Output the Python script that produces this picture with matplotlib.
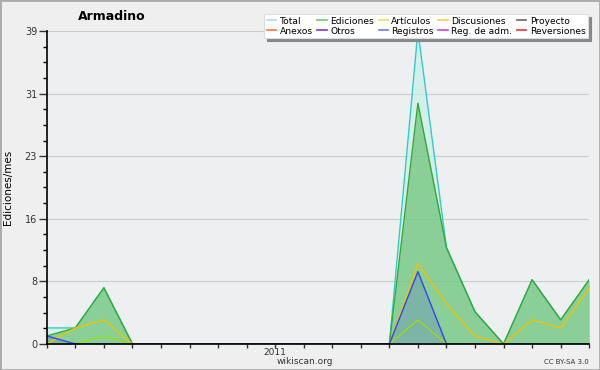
import matplotlib.pyplot as plt
from matplotlib.lines import Line2D
from matplotlib.patches import Rectangle
import numpy as np

# meses de may 2010 a dic 2011
meses = ["2010-05", "2010-06", "2010-07", "2010-08", "2010-09", "2010-10", "2010-11", "2010-12",
         "2011-01", "2011-02", "2011-03", "2011-04", "2011-05", "2011-06", "2011-07", "2011-08",
         "2011-09", "2011-10", "2011-11", "2011-12"]
total = [2, 2, 7, 0, 0, 0, 0, 0, 0, 0, 0, 0, 0, 39, 12, 4, 0, 8, 3, 8]
ediciones = [1, 2, 7, 0, 0, 0, 0, 0, 0, 0, 0, 0, 0, 30, 12, 4, 0, 8, 3, 8]
discusiones = [0, 2, 3, 0, 0, 0, 0, 0, 0, 0, 0, 0, 0, 10, 5, 1, 0, 3, 2, 7]
articulos = [0, 0, 1, 0, 0, 0, 0, 0, 0, 0, 0, 0, 0, 3, 0, 0, 0, 0, 0, 0]
registros = [1, 0, 0, 0, 0, 0, 0, 0, 0, 0, 0, 0, 0, 9, 0, 0, 0, 0, 0, 0]
ymax = 39

leyenda = [("Total", "#a8e4e0"), ("Ediciones", "#77c077"), ("Artículos", "#ccee66"),
           ("Discusiones", "#ffcc55"), ("Proyecto", "#666666"), ("Anexos", "#ff7744"),
           ("Otros", "#8833cc"), ("Registros", "#7777ee"), ("Reg. de adm.", "#cc44dd"),
           ("Reversiones", "#ee3333")]

fig = plt.figure(figsize=(6, 3.7), dpi=100, facecolor="#efefef")
ax = fig.add_axes([0.078, 0.0703, 0.904, 0.846])
ax.set_facecolor("#eeeff1")

x = np.arange(len(meses))

ax.fill_between(x, total, color="#c8f0e8", alpha=0.7, lw=0)
ax.fill_between(x, ediciones, color="#33aa33", alpha=0.45, lw=0)
ax.fill_between(x, registros, color="#5566dd", alpha=0.25, lw=0)
ax.plot(x, total, color="#33ccc4", lw=1)
ax.plot(x, ediciones, color="#33aa33", lw=1)
ax.plot(x, discusiones, color="#eec400", lw=1)
ax.plot(x, articulos, color="#99dd11", lw=1)
ax.plot(x, registros, color="#3344ee", lw=1)

ax.set_xlim(0, len(meses) - 1)
ax.set_ylim(0, ymax)
major = np.linspace(0, ymax, 6)
ax.set_yticks(major)
ax.set_yticklabels([str(int(round(v))) for v in major])
ax.set_yticks(np.linspace(0, ymax, 21), minor=True)
ax.set_xticks(x)
ax.set_xticklabels([m[:4] if m.endswith("-01") else "" for m in meses])
ax.grid(axis="y", which="major", color="#cccccc", lw=0.8)
ax.set_axisbelow(True)
for s in ["top", "right"]:
    ax.spines[s].set_visible(False)
ax.spines["left"].set_linewidth(1.2)
ax.spines["bottom"].set_linewidth(1.2)
ax.tick_params(axis="y", which="major", length=6, width=1, labelsize=7, colors="#333333", pad=1)
ax.tick_params(axis="y", which="minor", length=3, width=1)
ax.tick_params(axis="x", length=3, width=1, labelsize=6.5, colors="#333333", pad=0)

ax.set_ylabel("Ediciones/mes", fontsize=7.5, labelpad=13)
ax.yaxis.set_label_coords(-0.062, 0.5)
fig.text(0.187, 0.955, "Armadino", fontsize=9, fontweight="bold", ha="center", va="center")
fig.text(0.508, 0.024, "wikiscan.org", fontsize=6.5, ha="center", va="center", color="#333333")
fig.text(0.982, 0.022, "CC BY-SA 3.0", fontsize=5, ha="right", va="center", color="#333333")

# orden por columnas para que las filas queden como en el original
handles = [Line2D([], [], color=c, lw=1.2) for _, c in leyenda]
labels = [n for n, _ in leyenda]
orden = [0, 5, 1, 6, 2, 7, 3, 8, 4, 9]
leg = fig.legend([handles[i] for i in orden], [labels[i] for i in orden], ncol=5,
                 loc="upper right", bbox_to_anchor=(0.988, 0.975), fontsize=6.6,
                 handlelength=1.0, handletextpad=0.4, columnspacing=0.5,
                 labelspacing=0.1, borderpad=0.3, frameon=True, fancybox=False,
                 shadow={"color": "#888888", "alpha": 1}, framealpha=1)
leg.get_frame().set_edgecolor("#dddddd")
leg.get_frame().set_linewidth(0.8)

fig.patches.append(Rectangle((0, 0), 1, 1, transform=fig.transFigure, fill=False,
                             edgecolor="#aaaaaa", lw=2))

fig.savefig("out.png", dpi=100, facecolor=fig.get_facecolor())
